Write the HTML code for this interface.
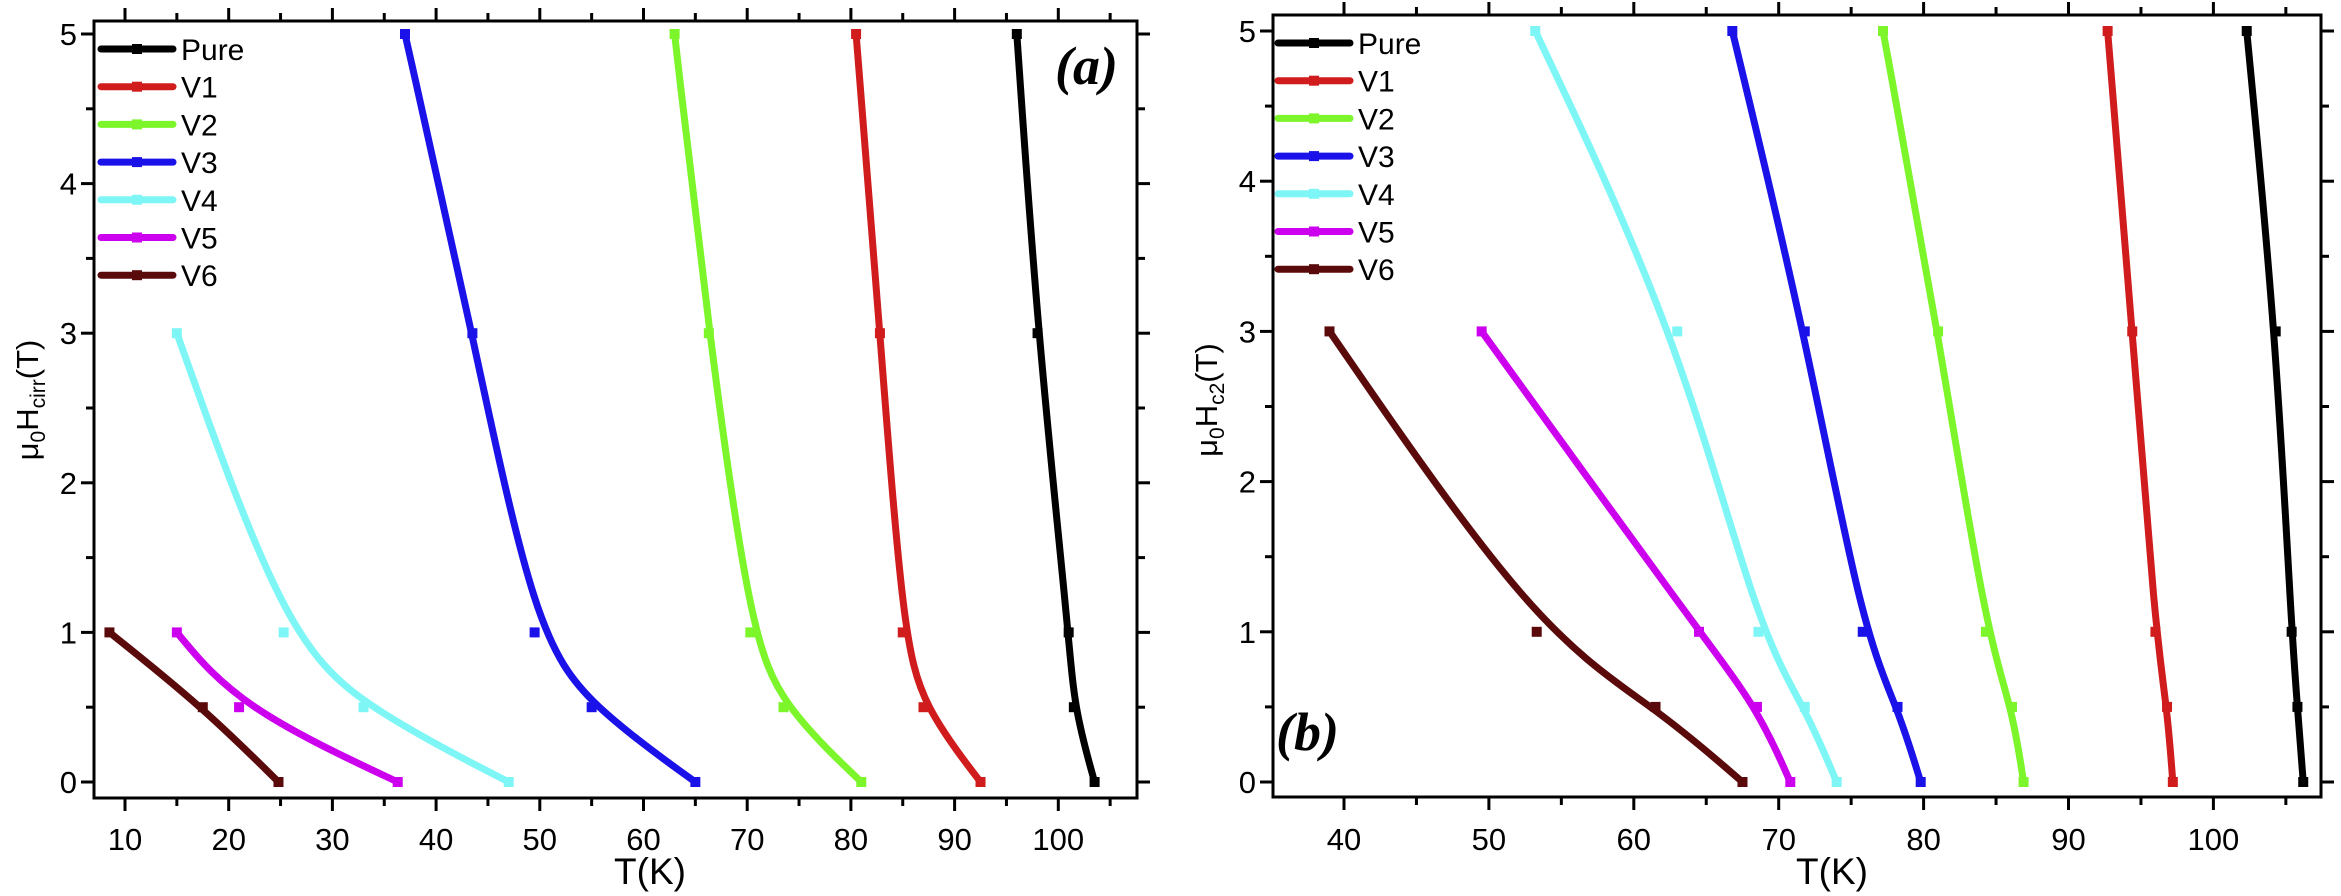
<!DOCTYPE html>
<html><head><meta charset="utf-8"><style>
html,body{margin:0;padding:0;background:#fff;}
svg{display:block;font-family:"Liberation Sans",Arial,sans-serif;}
</style></head><body>
<svg id="chart" width="2341" height="896" viewBox="0 0 2341 896" xmlns="http://www.w3.org/2000/svg"></svg>
<script>
const seriesNames = ["Pure","V1","V2","V3","V4","V5","V6"];
const seriesColors = ["#000000","#d01c1c","#7cf52a","#1a12e8","#7ff6f6","#cc00ee","#5a0a0a"];
// Panel (a): mu0 Hcirr vs T
const aPureT=[96,98,101,101.5,103.5], aPureH=[5,3,1,0.5,0];
const aV1T=[80.5,82.8,85,87,92.5], aV1H=[5,3,1,0.5,0];
const aV2T=[63,66.3,70.3,73.5,81], aV2H=[5,3,1,0.5,0];
const aV3T=[37,43.5,49.5,55,65], aV3H=[5,3,1,0.5,0];
const aV4T=[15,25.3,33,47], aV4H=[3,1,0.5,0];
const aV5T=[15,21,36.3], aV5H=[1,0.5,0];
const aV6T=[8.5,17.5,24.8], aV6H=[1,0.5,0];
// Panel (b): mu0 Hc2 vs T
const bPureT=[102.3,104.3,105.4,105.8,106.2], bPureH=[5,3,1,0.5,0];
const bV1T=[92.7,94.4,96,96.8,97.2], bV1H=[5,3,1,0.5,0];
const bV2T=[77.2,81,84.3,86.1,86.9], bV2H=[5,3,1,0.5,0];
const bV3T=[66.8,71.8,75.8,78.2,79.8], bV3H=[5,3,1,0.5,0];
const bV4T=[53.2,63,68.6,71.8,74], bV4H=[5,3,1,0.5,0];
const bV5T=[49.5,64.5,68.5,70.8], bV5H=[3,1,0.5,0];
const bV6T=[39,53.3,61.5,67.5], bV6H=[3,1,0.5,0];
const aXTicks=[10,20,30,40,50,60,70,80,90,100];
const bXTicks=[40,50,60,70,80,90,100];
const yTicks=[0,1,2,3,4,5];

const svg=document.getElementById('chart');
const NS='http://www.w3.org/2000/svg';
function mk(tag,attrs,parent){const e=document.createElementNS(NS,tag);for(const k in attrs)e.setAttribute(k,attrs[k]);(parent||svg).appendChild(e);return e;}

// clamped uniform cubic B-spline through control points (smoothing fit)
function bspline(pts){
  if(pts.length<2)return '';
  const Q=[pts[0],pts[0]].concat(pts,[pts[pts.length-1],pts[pts.length-1]]);
  let d='';
  for(let i=0;i+3<Q.length;i++){
    const a=Q[i],b=Q[i+1],c=Q[i+2],e=Q[i+3];
    const s=[(a[0]+4*b[0]+c[0])/6,(a[1]+4*b[1]+c[1])/6];
    const c1=[(2*b[0]+c[0])/3,(2*b[1]+c[1])/3];
    const c2=[(b[0]+2*c[0])/3,(b[1]+2*c[1])/3];
    const en=[(b[0]+4*c[0]+e[0])/6,(b[1]+4*c[1]+e[1])/6];
    if(i===0)d='M'+s[0]+','+s[1];
    d+=' C'+c1[0]+','+c1[1]+' '+c2[0]+','+c2[1]+' '+en[0]+','+en[1];
  }
  return d;
}

function panel(cfg){
  const g=mk('g',{});
  
  
  const X=t=>cfg.x0+(t-cfg.t0)*cfg.kx;
  const Y=h=>cfg.y0-h*cfg.ky;
  const L=cfg.left,R=cfg.right,T=cfg.top,B=cfg.bottom;
  const tg=mk('g',{stroke:'#000','stroke-width':3},g);
  
  
  for(let t=Math.ceil(cfg.tmin/5)*5;t<=cfg.tmax;t+=5){
    const major=t%10===0,len=major?13:8,x=X(t);
    mk('line',{x1:x,y1:B,x2:x,y2:B+len},tg);
    mk('line',{x1:x,y1:T,x2:x,y2:T-len},tg);
  }
  for(let h=0;h<=5;h+=0.5){
    const major=h%1===0,len=major?13:8,y=Y(h);
    mk('line',{x1:L,y1:y,x2:L-len,y2:y},tg);
    mk('line',{x1:R,y1:y,x2:R+len,y2:y},tg);
  }
  const fr=mk('rect',{x:L,y:T,width:R-L,height:B-T,fill:'none',stroke:'#000','stroke-width':3},g);
  
  
  cfg.xt.forEach(t=>{
    const tx=mk('text',{x:X(t),y:850,'font-size':31,'text-anchor':'middle'},g);tx.textContent=t;
    
    
  });
  yTicks.forEach(h=>{
    const tx=mk('text',{x:L-17,y:Y(h)+11,'font-size':31,'text-anchor':'end'},g);tx.textContent=h;
    
    
  });
  const xt=mk('text',{x:cfg.xtx,y:884,'font-size':37,'text-anchor':'middle'},g);xt.textContent='T(K)';
  
  
  const yt=mk('text',{x:0,y:0,'font-size':31,'text-anchor':'middle',transform:'translate('+(L-56)+',400) rotate(-90)'},g);
  yt.innerHTML='μ<tspan font-size="21" dy="7">0</tspan><tspan dy="-7">H</tspan><tspan font-size="21" dy="7">'+cfg.sub+'</tspan><tspan dy="-7">(T)</tspan>';
  
  
  cfg.data.forEach((s,i)=>{
    const sg=mk('g',{},g);
    
    
    const pts=s[0].map((t,j)=>[X(t),Y(s[1][j])]);
    const p=mk('path',{d:bspline(pts),fill:'none',stroke:seriesColors[i],'stroke-width':7,'stroke-linejoin':'round'},sg);
    
    
    pts.forEach(q=>{
      const r=mk('rect',{x:q[0]-5,y:q[1]-5,width:10,height:10,fill:seriesColors[i]},sg);
      
      
    });
  });
  const lg=mk('g',{},g);
  
  
  seriesNames.forEach((n,i)=>{
    const y=cfg.ly+i*37.7;
    const e=mk('g',{},lg);
    
    
    mk('line',{x1:cfg.lx,y1:y,x2:cfg.lx+72,y2:y,stroke:seriesColors[i],'stroke-width':7,'stroke-linecap':'round'},e);
    mk('rect',{x:cfg.lx+31,y:y-5,width:10,height:10,fill:seriesColors[i]},e);
    const tx=mk('text',{x:cfg.lx+80,y:y+11,'font-size':30},e);tx.textContent=n;
  });
  const lab=mk('text',{x:cfg.labx,y:cfg.laby,'font-size':54,'font-weight':'bold','font-style':'italic','font-family':'"Liberation Serif",serif'},g);
  lab.textContent=cfg.label;
  
  
}

panel({name:'panel-a',x0:125,t0:10,kx:10.37,y0:782,ky:149.6,left:94,right:1137,top:21,bottom:798,
  tmin:7,tmax:107.5,xt:aXTicks,xtx:650,sub:'cirr',lx:101,ly:49,labx:1055,laby:84,label:'(a)',
  data:[[aPureT,aPureH],[aV1T,aV1H],[aV2T,aV2H],[aV3T,aV3H],[aV4T,aV4H],[aV5T,aV5H],[aV6T,aV6H]]});
panel({name:'panel-b',x0:1344,t0:40,kx:14.49,y0:782,ky:150.2,left:1273,right:2321,top:15,bottom:797,
  tmin:35.1,tmax:107.2,xt:bXTicks,xtx:1832,sub:'c2',lx:1278,ly:43,labx:1276,laby:750,label:'(b)',
  data:[[bPureT,bPureH],[bV1T,bV1H],[bV2T,bV2H],[bV3T,bV3H],[bV4T,bV4H],[bV5T,bV5H],[bV6T,bV6H]]});
</script>
</body></html>
